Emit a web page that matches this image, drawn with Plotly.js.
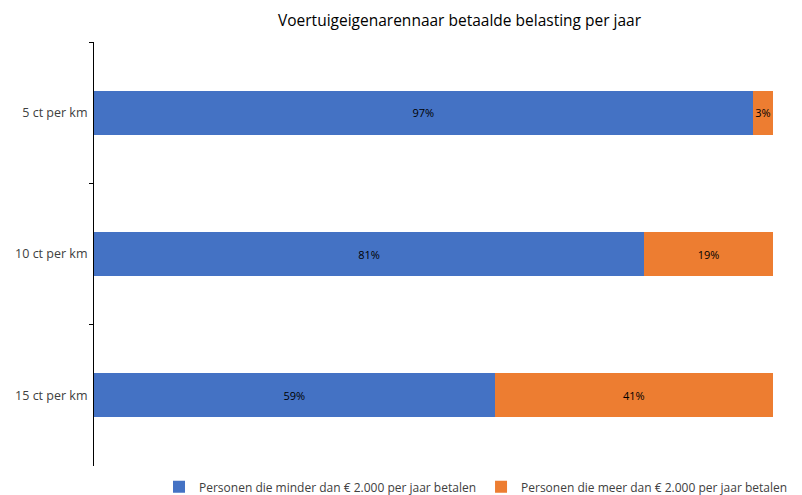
<!DOCTYPE html>
<html>
<head>
<meta charset="utf-8">
<script src="https://cdn.plot.ly/plotly-3.0.1.min.js"></script>
<style>
  html, body { margin: 0; padding: 0; background: #fff; }
  #chart { width: 802px; height: 495px; }
</style>
</head>
<body>
<div id="chart"></div>
<script>
const categories = ["5 ct per km", "10 ct per km", "15 ct per km"];
const minder = [0.97, 0.81, 0.59];
const meer = [0.03, 0.19, 0.41];
const seriesNames = [
  "Personen die minder dan € 2.000 per jaar betalen",
  "Personen die meer dan € 2.000 per jaar betalen"
];

const pct = (arr) => arr.map((v) => Math.round(v * 100) + "%");
const font = "Open Sans, Liberation Sans, sans-serif";

function barTrace(values, name, color) {
  return {
    type: "bar",
    orientation: "h",
    y: categories,
    x: values,
    name,
    marker: { color },
    text: pct(values),
    textposition: "inside",
    insidetextanchor: "middle",
    textangle: 0,
    constraintext: "none",
    textfont: { color: "#000", size: 11, family: font },
    hoverinfo: "skip"
  };
}

const traces = [
  barTrace(minder, seriesNames[0], "#4472C4"),
  barTrace(meer, seriesNames[1], "#ED7D31")
];

const layout = {
  width: 802,
  height: 495,
  barmode: "stack",
  bargap: 0.69,
  paper_bgcolor: "#fff",
  plot_bgcolor: "#fff",
  font: { family: font, color: "#404040" },
  margin: { l: 94, r: 29, t: 42, b: 29, autoexpand: false },
  title: {
    text: "Voertuigeigenarennaar betaalde belasting per jaar",
    font: { size: 15.5, color: "#000", family: font },
    x: 0.573,
    xanchor: "center",
    y: 0.958,
    yanchor: "middle"
  },
  xaxis: {
    range: [0, 1],
    showgrid: false,
    zeroline: false,
    showticklabels: false,
    showline: false,
    fixedrange: true
  },
  yaxis: {
    type: "category",
    categoryorder: "array",
    categoryarray: categories,
    autorange: "reversed",
    showline: true,
    linecolor: "#000",
    linewidth: 1,
    ticks: "outside",
    tickson: "boundaries",
    ticklen: 4,
    tickcolor: "#000",
    ticklabelstandoff: 3,
    showgrid: false,
    tickfont: { size: 12.5, color: "#404040", family: font },
    fixedrange: true
  },
  showlegend: true,
  legend: {
    orientation: "h",
    x: 0.5626,
    xanchor: "center",
    y: -0.015,
    yanchor: "top",
    font: { size: 12, color: "#404040", family: font },
    traceorder: "normal",
    itemwidth: 30
  }
};

Plotly.newPlot("chart", traces, layout, { displayModeBar: false, staticPlot: true });
</script>
</body>
</html>
